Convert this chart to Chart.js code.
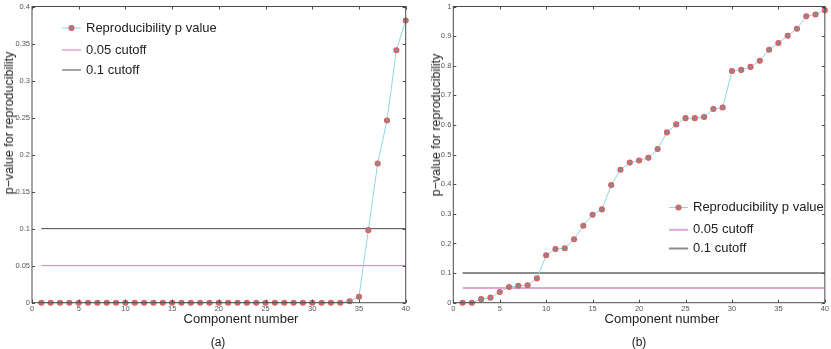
<!DOCTYPE html>
<html>
<head>
<meta charset="utf-8">
<script src="https://cdn.jsdelivr.net/npm/chart.js"></script>
<style>
  body { margin: 0; background: #fff; }
  #page { position: relative; width: 831px; height: 349px; overflow: hidden; font-family: 'Liberation Sans', Arial, sans-serif; color: #222; }
  .panel { position: absolute; top: 0; height: 349px; }
  .lbl { position: absolute; white-space: nowrap; transform: translate(-50%, -50%); font-size: 13px; }
  .ytitle { position: absolute; white-space: nowrap; font-size: 12.5px; line-height: 12px; transform: translate(-50%, -50%) rotate(-90deg); }
  .sub { font-size: 12px; }
</style>
</head>
<body>
<div id="page">
  <div class="panel" style="left:0;width:415px"><canvas id="chartA"></canvas></div>
  <div class="panel" style="left:415px;width:416px"><canvas id="chartB"></canvas></div>
  <div class="ytitle" style="left:9px;top:123px">p−value for reproducibility</div>
  <div class="ytitle" style="left:436px;top:125px">p−value for reproducibility</div>
  <div class="lbl" style="left:241px;top:318px">Component number</div>
  <div class="lbl" style="left:662px;top:318px">Component number</div>
  <div class="lbl sub" style="left:218px;top:342px">(a)</div>
  <div class="lbl sub" style="left:639px;top:342px">(b)</div>
</div>
<script>
// data
const components = [1, 2, 3, 4, 5, 6, 7, 8, 9, 10, 11, 12, 13, 14, 15, 16, 17, 18, 19, 20,
  21, 22, 23, 24, 25, 26, 27, 28, 29, 30, 31, 32, 33, 34, 35, 36, 37, 38, 39, 40];
const pvalA = [0, 0, 0, 0, 0, 0, 0, 0, 0, 0, 0, 0, 0, 0, 0, 0, 0, 0, 0, 0,
  0, 0, 0, 0, 0, 0, 0, 0, 0, 0, 0, 0, 0, 0.002, 0.008, 0.098, 0.188, 0.246, 0.341, 0.381];
const pvalB = [0, 0, 0.012, 0.017, 0.036, 0.053, 0.057, 0.059, 0.082, 0.160,
  0.181, 0.184, 0.214, 0.260, 0.297, 0.315, 0.397, 0.449, 0.473, 0.480,
  0.489, 0.519, 0.575, 0.602, 0.623, 0.623, 0.627, 0.654, 0.659, 0.782,
  0.786, 0.796, 0.817, 0.854, 0.877, 0.901, 0.925, 0.967, 0.973, 0.987];
const cutoffX = [1, 40];
const cutoffLow = 0.05;
const cutoffHigh = 0.1;
const xTicks = [0, 5, 10, 15, 20, 25, 30, 35, 40];
const yTicksA = [0, 0.05, 0.1, 0.15, 0.2, 0.25, 0.3, 0.35, 0.4];
const yTicksB = [0, 0.1, 0.2, 0.3, 0.4, 0.5, 0.6, 0.7, 0.8, 0.9, 1];
const legendLabels = ['Reproducibility p value', '0.05 cutoff', '0.1 cutoff'];

const FONT = "'Liberation Sans', Arial, sans-serif";

// box around plot with inward ticks, plus legend inside plot
const framePlugin = {
    id: 'frame',
    afterDraw(chart, args, opts) {
        const ctx = chart.ctx;
        const a = chart.chartArea;
        const xs = chart.scales.x, ys = chart.scales.y;
        ctx.save();
        ctx.strokeStyle = opts.color;
        ctx.lineWidth = 1;
        ctx.strokeRect(a.left, a.top, a.right - a.left, a.bottom - a.top);
        ctx.beginPath();
        xs.ticks.forEach(t => {
            const px = Math.round(xs.getPixelForValue(t.value)) + 0.5;
            ctx.moveTo(px, a.bottom); ctx.lineTo(px, a.bottom - 3);
            ctx.moveTo(px, a.top); ctx.lineTo(px, a.top + 3);
        });
        ys.ticks.forEach(t => {
            const py = Math.round(ys.getPixelForValue(t.value)) + 0.5;
            ctx.moveTo(a.left, py); ctx.lineTo(a.left + 3, py);
            ctx.moveTo(a.right, py); ctx.lineTo(a.right - 3, py);
        });
        ctx.stroke();

        // legend
        ctx.font = '13px ' + FONT;
        ctx.textBaseline = 'middle';
        chart.data.datasets.forEach((ds, i) => {
            const y = opts.legendY + opts.rows[i];
            const x0 = opts.legendX;
            ctx.strokeStyle = ds.borderColor;
            ctx.lineWidth = ds.borderWidth;
            ctx.beginPath();
            ctx.moveTo(x0, y); ctx.lineTo(x0 + 19, y);
            ctx.stroke();
            if (ds.pointRadius > 0) {
                ctx.beginPath();
                ctx.arc(x0 + 9.5, y, ds.pointRadius, 0, Math.PI * 2);
                ctx.fillStyle = ds.pointBackgroundColor;
                ctx.fill();
                ctx.lineWidth = ds.pointBorderWidth;
                ctx.strokeStyle = ds.pointBorderColor;
                ctx.stroke();
            }
            ctx.fillStyle = '#222';
            ctx.fillText(ds.label, x0 + 24, y);
        });
        ctx.restore();
    }
};

function makeChart(id, values, yMax, yTicks, cfg) {
    const ctx = document.getElementById(id).getContext('2d');
    const pts = components.map((c, i) => ({ x: c, y: values[i] }));
    return new Chart(ctx, {
        type: 'line',
        data: {
            datasets: [
                {
                    label: legendLabels[0],
                    data: pts,
                    borderColor: '#8fd6e6',
                    borderWidth: 1,
                    pointRadius: 2.5,
                    pointBackgroundColor: '#8a8a8a',
                    pointBorderColor: '#e8585c',
                    pointBorderWidth: 1.1,
                    clip: false,
                    order: 0
                },
                {
                    label: legendLabels[1],
                    data: cutoffX.map(x => ({ x: x, y: cutoffLow })),
                    borderColor: cfg.lowColor,
                    borderWidth: cfg.cutWidth,
                    pointRadius: 0,
                    order: 1
                },
                {
                    label: legendLabels[2],
                    data: cutoffX.map(x => ({ x: x, y: cutoffHigh })),
                    borderColor: cfg.highColor,
                    borderWidth: cfg.cutWidth,
                    pointRadius: 0,
                    order: 2
                }
            ]
        },
        options: {
            responsive: true,
            maintainAspectRatio: false,
            animation: false,
            layout: { padding: { left: 0, top: 4, right: cfg.padRight, bottom: 0 } },
            plugins: {
                legend: { display: false },
                tooltip: { enabled: false },
                frame: { color: '#4a4a4a', legendX: cfg.legendX, legendY: cfg.legendY, rows: cfg.rows }
            },
            scales: {
                x: {
                    type: 'linear',
                    min: 0,
                    max: 40,
                    afterBuildTicks: s => { s.ticks = xTicks.map(v => ({ value: v })); },
                    afterFit: s => { s.height = 46.3; },
                    grid: { display: false, drawTicks: false },
                    border: { display: false },
                    ticks: { padding: 2, color: '#555', font: { family: FONT, size: 7.5 }, maxRotation: 0,
                        callback: v => String(v) }
                },
                y: {
                    min: 0,
                    max: yMax,
                    afterBuildTicks: s => { s.ticks = yTicks.map(v => ({ value: v })); },
                    afterFit: s => { s.width = cfg.yWidth; },
                    grid: { display: false, drawTicks: false },
                    border: { display: false },
                    ticks: { padding: 2, color: '#555', font: { family: FONT, size: 7.5 },
                        callback: v => String(v) }
                }
            }
        },
        plugins: [framePlugin]
    });
}

makeChart('chartA', pvalA, 0.4, yTicksA, {
    lowColor: '#d27bc2', highColor: '#4a4a4a', cutWidth: 1,
    padRight: 9.3, yWidth: 32,
    legendX: 62, legendY: 28, rows: [0, 22, 42]
});
makeChart('chartB', pvalB, 1, yTicksB, {
    lowColor: '#e0a6d8', highColor: '#8c8c8c', cutWidth: 2,
    padRight: 5.3, yWidth: 38.3,
    legendX: 254, legendY: 207.5, rows: [0, 22.3, 41]
});
</script>
</body>
</html>
